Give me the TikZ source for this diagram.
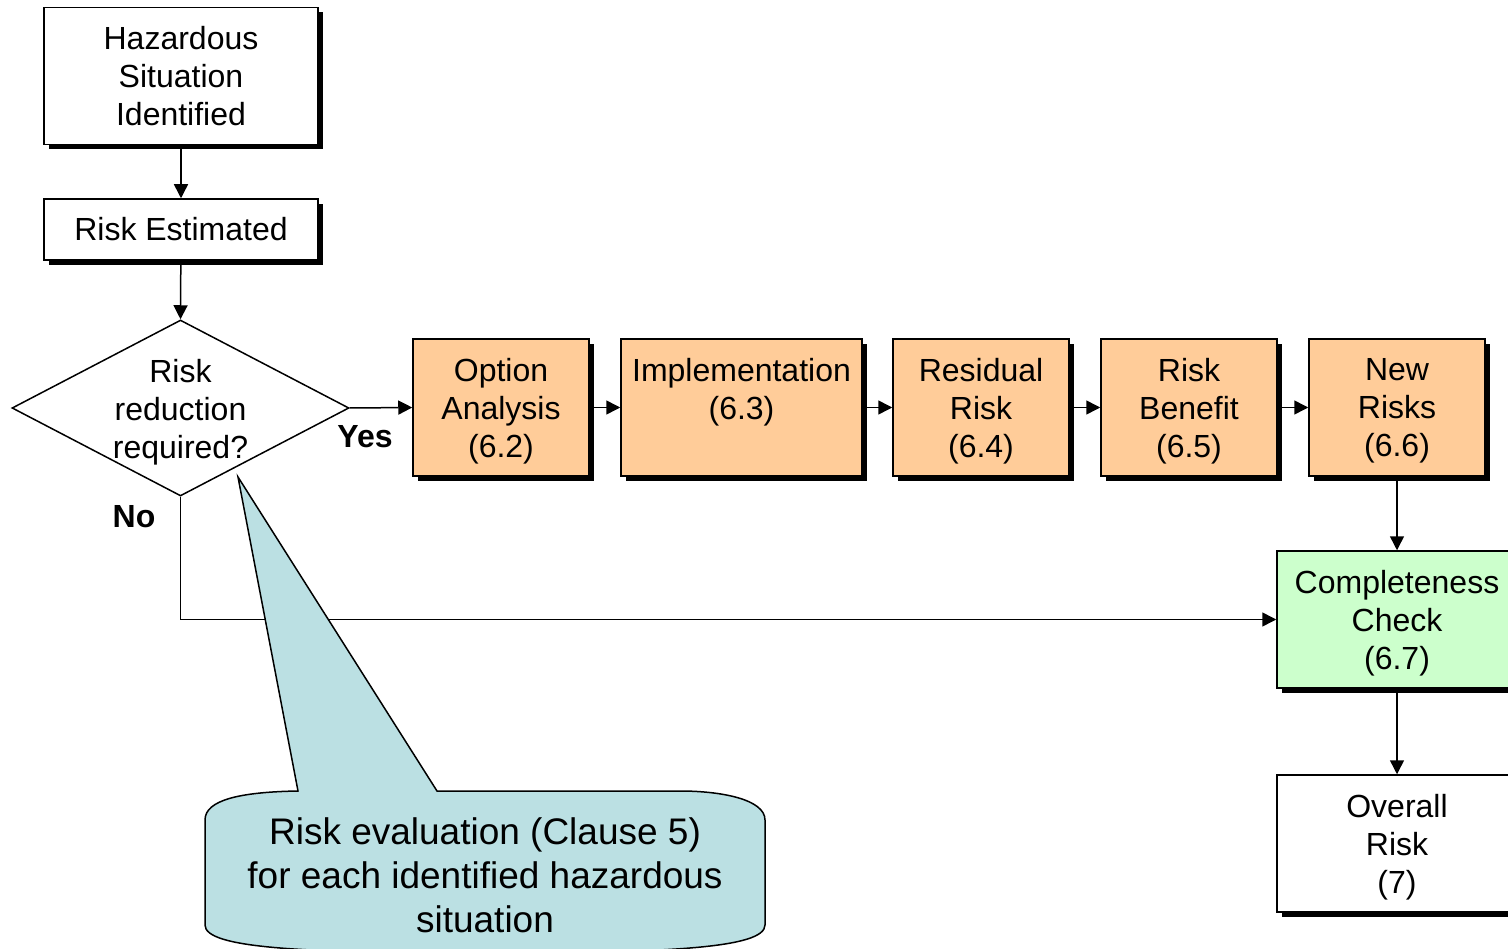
\documentclass[tikz,border=0pt]{standalone}
\usepackage{fontspec}
\setmainfont{Liberation Sans}
\usetikzlibrary{shapes.geometric,arrows.meta,shadows}
\definecolor{orangefill}{HTML}{FFCC99}
\definecolor{greenfill}{HTML}{CCFFCC}
\definecolor{calloutfill}{HTML}{BBE0E3}
\begin{document}
\begin{tikzpicture}[x=1pt,y=-1pt,
  txt/.style={font=\fontsize{32}{38}\selectfont, align=center, inner sep=0pt},
  box/.style={draw=black, line width=1.5pt, fill=white, txt,
    drop shadow={shadow xshift=5pt, shadow yshift=-5pt, fill=black, opacity=1}},
  orangebox/.style={box, fill=orangefill, minimum width=176pt, minimum height=137pt},
  conn/.style={line width=1.5pt, -{Triangle[length=14pt,width=14pt]}},
  lbl/.style={font=\fontsize{32}{38}\selectfont\bfseries, inner sep=0pt}
]
\clip (0,0) rectangle (1508,949);
\fill[white] (0,0) rectangle (1508,949);

\node[box, minimum width=274pt, minimum height=137pt] (haz) at (181,76) {Hazardous\\Situation\\Identified};
\node[box, minimum width=274pt, minimum height=61pt] (est) at (181,229.5) {Risk Estimated};
\node[draw=black, line width=1.5pt, shape=diamond, minimum width=337pt, minimum height=176pt, inner sep=0pt] (dia) at (180.5,408) {};
\node[txt] (diatext) at (180.5,409) {Risk\\reduction\\\smash{required?}};

\node[orangebox] (opt) at (501,407.5) {Option\\Analysis\\\smash{(6.2)}};
\node[orangebox, minimum width=241pt] (impl) at (741.5,407.5) {Implementation\\\smash{(6.3)}\\\mbox{}};
\node[orangebox] (res) at (981,407.5) {Residual\\Risk\\\smash{(6.4)}};
\node[orangebox] (ben) at (1189,407.5) {Risk\\Benefit\\\smash{(6.5)}};
\node[orangebox] (new) at (1397,407.5) {New\\Risks\\\smash{(6.6)}};
\node[box, fill=greenfill, minimum width=240pt, minimum height=137pt] (comp) at (1397,619.5) {Completeness\\Check\\\smash{(6.7)}};
\node[box, minimum width=240pt, minimum height=137pt] (over) at (1397,843.5) {Overall\\Risk\\\smash{(7)}};

\draw[conn] (haz) -- (est);
\draw[conn] (est) -- (dia.north);
\draw[conn] (dia.east) -- (opt.west);
\draw[conn] (opt) -- (impl);
\draw[conn] (impl) -- (res);
\draw[conn] (res) -- (ben);
\draw[conn] (ben) -- (new);
\draw[conn] (new) -- (comp);
\draw[conn] (comp) -- (over);
\draw[conn] (dia.south) |- (comp.west);

\node[lbl] (yes) at (365,437) {Yes};
\node[lbl] (no) at (134,517) {No};

\draw[line width=1.5pt, fill=calloutfill, line join=miter]
  (205,820) -- (205,925) .. controls (205,948) and (300,953) .. (485,953)
  .. controls (670,953) and (765,948) .. (765,925) -- (765,820)
  .. controls (765,799) and (720,791) .. (680,791) -- (437,791) -- (238,477) -- (298,791)
  .. controls (240,792) and (205,800) .. (205,820) -- cycle;
\node[font=\fontsize{37}{44}\selectfont, align=center, inner sep=0pt] (callout) at (485,875)
  {Risk evaluation (Clause 5)\\for each identified hazardous\\situation};
\end{tikzpicture}
\end{document}
